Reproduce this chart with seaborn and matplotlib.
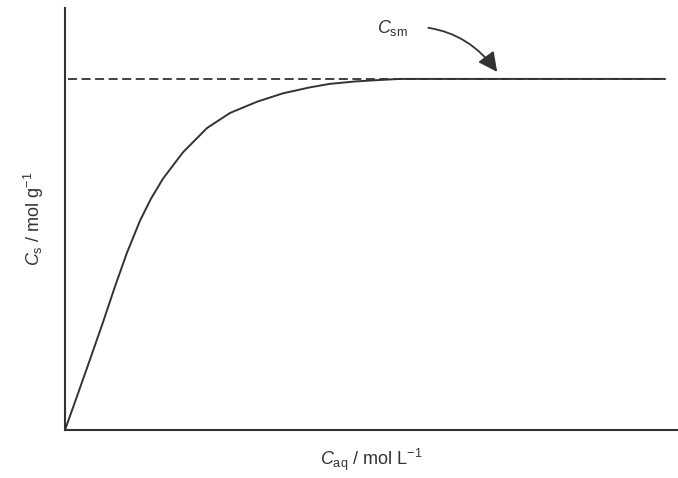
import numpy as np
import pandas as pd
import matplotlib
matplotlib.use("Agg")
import matplotlib.pyplot as plt
import seaborn as sns

# isotherm (arbitrary units, plateau = 1)
c_aq = [0.0, 0.196, 0.408, 0.620, 0.816, 1.011, 1.223, 1.40, 1.599, 1.925,
        2.316, 2.692, 3.132, 3.556, 3.997, 4.323, 4.75, 5.139, 5.465, 9.79]
c_s = [0.0, 0.096, 0.201, 0.307, 0.409, 0.505, 0.596, 0.658, 0.716, 0.791,
       0.860, 0.903, 0.935, 0.959, 0.976, 0.986, 0.993, 0.997, 1.0, 1.0]
c_sm = 1.0
dash_x = [0.05, 9.79]

sns.set_style("white")
plt.rcParams['font.family'] = ['Liberation Sans', 'DejaVu Sans']
plt.rcParams['mathtext.fontset'] = 'custom'
plt.rcParams['mathtext.rm'] = 'Liberation Sans'
plt.rcParams['mathtext.it'] = 'Liberation Sans:italic'

df = pd.DataFrame({'x': c_aq, 'y': c_s})

fig = plt.figure(figsize=(6.78, 4.78), dpi=100)
ax = fig.add_axes([65 / 678, 48 / 478, 613 / 678, 422 / 478])

sns.lineplot(data=df, x='x', y='y', ax=ax, color='#333333', lw=1.4)
ax.plot(dash_x, [c_sm, c_sm], color='#333333', lw=1.3, dashes=(5, 2.5))

ax.annotate('$C_{\\mathrm{sm}}$', xy=(7.05, 1.02), xytext=(5.35, 1.145),
            ha='center', va='center', fontsize=13, color='#333333',
            arrowprops=dict(arrowstyle='-|>,head_length=0.9,head_width=0.45',
                            connectionstyle='arc3,rad=-0.3', color='#333333',
                            lw=1.3, shrinkA=12, shrinkB=0))

ax.set_xlim(0, 10)
ax.set_ylim(0, 1.202)
ax.set_xticks([])
ax.set_yticks([])
for s in ['top', 'right']:
    ax.spines[s].set_visible(False)
for s in ['left', 'bottom']:
    ax.spines[s].set_color('#333333')
    ax.spines[s].set_linewidth(1.5)

ax.set_xlabel('$C_{\\mathrm{aq}}$ / mol L$^{-1}$', fontsize=13, color='#333333', labelpad=12)
ax.set_ylabel('$C_{\\mathrm{s}}$ / mol g$^{-1}$', fontsize=13, color='#333333', labelpad=14)

fig.savefig('out.png', dpi=100)
